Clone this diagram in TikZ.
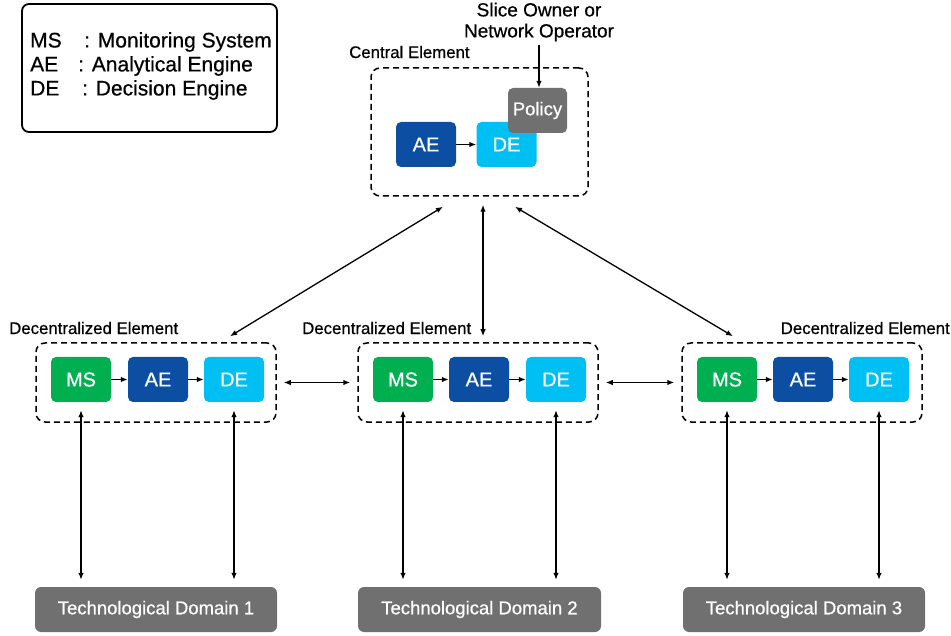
\documentclass[tikz,border=0pt]{standalone}
\usepackage{fontspec}
\setmainfont[FakeBold=0.6]{Liberation Sans}
\usetikzlibrary{arrows.meta}
\definecolor{msgreen}{HTML}{00B050}
\definecolor{aeblue}{HTML}{0B4EA2}
\definecolor{deblue}{HTML}{00BFF3}
\definecolor{boxgray}{HTML}{707070}

\begin{document}
\begin{tikzpicture}[x=1pt, y=-1pt,
  block/.style={rounded corners=5pt, minimum width=60pt, minimum height=45pt, inner sep=0pt, text=white, font=\fontsize{20}{24}\selectfont},
  group/.style={draw, rounded corners=9pt, line width=1.5pt, dash pattern=on 6pt off 4pt, minimum height=79pt, minimum width=240pt},
  techbox/.style={fill=boxgray, rounded corners=6pt, minimum width=242pt, minimum height=45pt, text=white, font=\fontsize{18.5}{22}\selectfont},
  lbl/.style={font=\fontsize{16.8}{20}\selectfont, inner sep=0pt},
  link/.style={line width=1.3pt, -{Latex[length=7pt,width=5.5pt]}},
  twoway/.style={line width=1.3pt, {Latex[length=7pt,width=5.5pt]}-{Latex[length=7pt,width=5.5pt]}}]
\useasboundingbox (0,0) rectangle (951,636);

% legend
\node[draw, line width=1.8pt, rounded corners=7pt, minimum width=255pt, minimum height=128pt] (legend) at (149.5,68) {};
\node[anchor=west, inner sep=0pt, align=left, font=\fontsize{21}{24}\selectfont] (legendtxt) at (30,66)
  {\makebox[54pt][l]{MS}: Monitoring System\\ \makebox[48pt][l]{AE}: Analytical Engine\\ \makebox[52pt][l]{DE}: Decision Engine};

% central element
\node[group, minimum width=217pt, minimum height=128pt] (central) at (479.5,132) {};
\node[lbl, anchor=west] (centrallbl) at (349,52) {Central Element};
\node[block, fill=aeblue] (ae0) at (426,144.5) {AE};
\node[block, fill=deblue] (de0) at (506.5,144.5) {DE};
\node[block, fill=boxgray, minimum width=59pt, font=\fontsize{18.5}{22}\selectfont] (policy) at (537.5,110.5) {Policy};
\node[align=center, inner sep=0pt, font=\fontsize{19}{21}\selectfont] (owner) at (539,22) {Slice Owner or\\Network Operator};
\draw[link] ([yshift=-3pt]owner.south) -- (owner.south |- policy.north);
\draw[link] (ae0) -- (de0);

% decentralized elements
\node[group] (dec1) at (156,382.5) {};
\node[group] (dec2) at (478,382.5) {};
\node[group] (dec3) at (802,382.5) {};
\node[lbl, anchor=west] (dec1lbl) at (9,328) {Decentralized Element};
\node[lbl, anchor=west] (dec2lbl) at (302,328) {Decentralized Element};
\node[lbl, anchor=east] (dec3lbl) at (950,328) {Decentralized Element};

\node[block, fill=msgreen] (ms1) at (81,379.5) {MS};
\node[block, fill=aeblue] (ae1) at (158,379.5) {AE};
\node[block, fill=deblue] (de1) at (234,379.5) {DE};
\node[block, fill=msgreen] (ms2) at (403,379.5) {MS};
\node[block, fill=aeblue] (ae2) at (479,379.5) {AE};
\node[block, fill=deblue] (de2) at (556,379.5) {DE};
\node[block, fill=msgreen] (ms3) at (727,379.5) {MS};
\node[block, fill=aeblue] (ae3) at (803,379.5) {AE};
\node[block, fill=deblue] (de3) at (879,379.5) {DE};

\draw[link] (ms1) -- (ae1);
\draw[link] (ae1) -- (de1);
\draw[link] (ms2) -- (ae2);
\draw[link] (ae2) -- (de2);
\draw[link] (ms3) -- (ae3);
\draw[link] (ae3) -- (de3);

\draw[twoway, shorten <=7pt, shorten >=7pt] (dec1) -- (dec2);
\draw[twoway, shorten <=7pt, shorten >=7pt] (dec2) -- (dec3);

% central <-> decentralized
\draw[twoway] ([xshift=-36.5pt,yshift=-10pt]central.south) -- ([xshift=74pt,yshift=6pt]dec1.north);
\draw[twoway] ([xshift=3.5pt,yshift=-8pt]central.south) -- ([xshift=5pt,yshift=6pt]dec2.north);
\draw[twoway] ([xshift=35.5pt,yshift=-10pt]central.south) -- ([xshift=-69pt,yshift=6pt]dec3.north);

% technological domains
\node[techbox] (td1) at (156,609.5) {Technological Domain 1};
\node[techbox, minimum width=243pt] (td2) at (479.5,609.5) {Technological Domain 2};
\node[techbox] (td3) at (804,609.5) {Technological Domain 3};

\draw[twoway, shorten <=8pt, shorten >=7pt] (ms1.south) -- (ms1.south |- td1.north);
\draw[twoway, shorten <=8pt, shorten >=7pt] (de1.south) -- (de1.south |- td1.north);
\draw[twoway, shorten <=8pt, shorten >=7pt] (ms2.south) -- (ms2.south |- td2.north);
\draw[twoway, shorten <=8pt, shorten >=7pt] (de2.south) -- (de2.south |- td2.north);
\draw[twoway, shorten <=8pt, shorten >=7pt] (ms3.south) -- (ms3.south |- td3.north);
\draw[twoway, shorten <=8pt, shorten >=7pt] (de3.south) -- (de3.south |- td3.north);
\end{tikzpicture}
\end{document}
